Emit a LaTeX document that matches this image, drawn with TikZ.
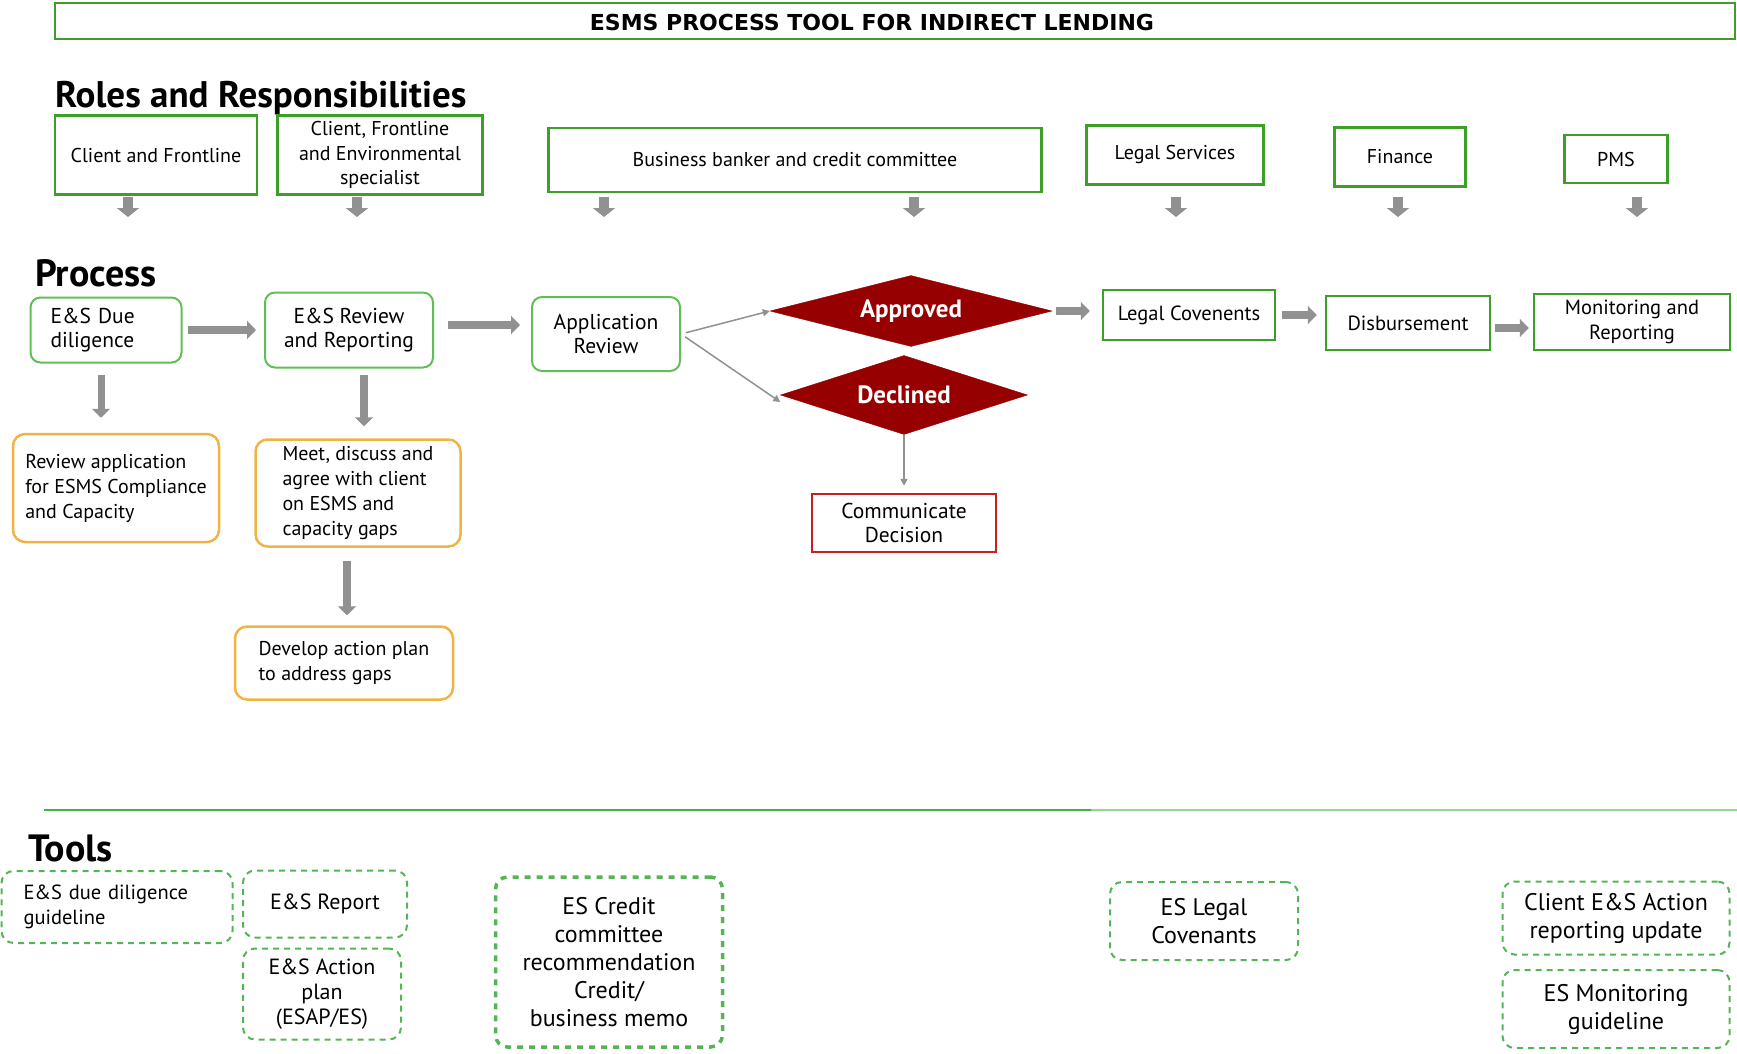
\documentclass[tikz,border=0pt]{standalone}
\usepackage{fontspec}
\setmainfont{PT Sans}
\newfontfamily\titlefont{DejaVu Sans}
\usetikzlibrary{arrows.meta,shapes.geometric,positioning}

\definecolor{boxgreen}{RGB}{60,160,40}
\definecolor{softgreen}{RGB}{95,190,85}
\definecolor{dashgreen}{RGB}{85,180,85}
\definecolor{gapgold}{RGB}{240,180,70}
\definecolor{decred}{RGB}{150,0,0}
\definecolor{commred}{RGB}{200,30,30}
\definecolor{arrowgray}{RGB}{145,145,145}
\definecolor{rulegreen}{RGB}{70,175,70}
\definecolor{rulelight}{RGB}{150,215,150}

\tikzset{
  titlebox/.style={draw=boxgreen, line width=2pt},
  sechead/.style={anchor=west, inner sep=0pt, font=\bfseries\fontsize{38}{42}\selectfont},
  rolebox/.style={draw=boxgreen, line width=2.5pt, align=center, inner sep=2pt,
    font=\fontsize{20}{24.5}\selectfont},
  procbox/.style={draw=softgreen, line width=2pt, rounded corners=10pt, align=center,
    font=\fontsize{21.5}{24.5}\selectfont},
  flatbox/.style={draw=boxgreen, line width=2.5pt, align=center, font=\fontsize{20.5}{24.5}\selectfont},
  gapbox/.style={draw=gapgold, line width=2.5pt, rounded corners=12pt, align=left,
    font=\fontsize{20}{25}\selectfont},
  decision/.style={diamond, fill=decred, draw=decred, inner sep=0pt, text=white,
    font=\bfseries\fontsize{25}{28}\selectfont},
  commbox/.style={draw=commred, line width=2.5pt, align=center, font=\fontsize{21.5}{24}\selectfont},
  toolbox/.style={draw=dashgreen, line width=2pt, dash pattern=on 6pt off 5pt,
    rounded corners=12pt, align=center, font=\fontsize{24}{28}\selectfont},
  blockarrow/.style={draw=arrowgray, line width=8pt, -{Triangle[width=18pt,length=9pt]}},
  downarrow/.style={draw=arrowgray, line width=10pt, -{Triangle[width=22pt,length=9pt]}},
  thinarrow/.style={draw=arrowgray, line width=1.5pt, -{Triangle[width=7pt,length=7pt]}}
}

\begin{document}
\begin{tikzpicture}[x=1pt,y=-1pt]
  \useasboundingbox (0,0) rectangle (1737,1054);

  % title and headings
  \draw[titlebox] (55,3) rectangle (1735,39);
  \node[font=\titlefont\bfseries\fontsize{22}{24}\selectfont] (title) at (872,22)
    {ESMS PROCESS TOOL FOR INDIRECT LENDING};
  \node[sechead, font=\bfseries\fontsize{37}{42}\selectfont] (roles) at (55,98) {Roles and Responsibilities};
  \node[sechead] (proc) at (35,273) {Process};
  \node[sechead] (tools) at (28,848) {Tools};

  % roles and responsibilities
  \node[rolebox, minimum width=202pt, minimum height=79pt] (cf) at (156,155) {Client and Frontline};
  \node[rolebox, minimum width=205pt, minimum height=79pt] (cfe) at (380,155)
    {Client, Frontline\\and Environmental\\specialist};
  \node[rolebox, minimum width=493pt, minimum height=64pt] (bank) at (795,160)
    {Business banker and credit committee};
  \node[rolebox, minimum width=177pt, minimum height=59pt] (legal) at (1175,155) {Legal Services};
  \node[rolebox, minimum width=131pt, minimum height=59pt] (fin) at (1400,157) {Finance};
  \node[rolebox, minimum width=103pt, minimum height=48pt] (pms) at (1616,159) {PMS};

  \foreach \x in {128,357,604,914,1176,1398,1637}
    \draw[downarrow] (\x,197) -- (\x,217);

  % process
  \node[procbox, align=left, text width=111pt, inner xsep=20pt, minimum height=65pt] (dd) at (106,330)
    {E\&S Due\\diligence};
  \node[procbox, minimum width=168pt, minimum height=75pt] (rr) at (349,330)
    {E\&S Review\\and Reporting};
  \node[procbox, minimum width=148pt, minimum height=74pt] (ar) at (606,334)
    {Application\\Review};
  \node[decision, aspect=4, minimum width=282pt, minimum height=71pt] (appr) at (911,311) {Approved};
  \node[decision, aspect=3.1, minimum width=247pt, minimum height=79pt] (decl) at (904,395) {Declined};
  \node[commbox, minimum width=184pt, minimum height=58pt] (comm) at (904,523)
    {Communicate\\Decision};
  \node[flatbox, minimum width=172pt, minimum height=50pt] (lc) at (1189,315) {Legal Covenents};
  \node[flatbox, minimum width=164pt, minimum height=54pt] (disb) at (1408,323) {Disbursement};
  \node[flatbox, minimum width=196pt, minimum height=56pt] (mon) at (1632,322)
    {Monitoring and\\Reporting};

  \node[gapbox, minimum width=206pt, minimum height=108pt] (rev) at (116,488)
    {Review application\\for ESMS Compliance\\and Capacity};
  \node[gapbox, minimum width=205pt, minimum height=107pt] (meet) at (358,493)
    {Meet, discuss and\\agree with client\\on ESMS and\\capacity gaps};
  \node[gapbox, minimum width=218pt, minimum height=73pt] (dev) at (344,663)
    {Develop action plan\\to address gaps};

  \draw[blockarrow, shorten <=5pt, shorten >=8pt] (dd.east) -- (dd.east -| rr.west);
  \draw[blockarrow, shorten <=14pt, shorten >=11pt] ([yshift=5pt]rr.east) -- ([yshift=5pt]rr.east -| ar.west);
  \draw[blockarrow, line width=7pt, shorten <=11pt, shorten >=15pt] ([xshift=-5pt]dd.south) -- ([xshift=-5pt]dd.south |- rev.north);
  \draw[blockarrow, shorten <=6pt, shorten >=12pt] ([xshift=15pt]rr.south) -- ([xshift=15pt]rr.south |- meet.north);
  \draw[blockarrow, shorten <=13pt, shorten >=10pt] ([xshift=-11pt]meet.south) -- ([xshift=-11pt]meet.south |- dev.north);
  \draw[thinarrow, shorten <=5pt] (ar.east) -- (appr.west);
  \draw[thinarrow, shorten <=5pt] (ar.east) -- ([yshift=-7pt]decl.west);
  \draw[thinarrow, shorten >=7pt] (decl.south) -- (comm.north);
  \draw[blockarrow, shorten <=4pt, shorten >=12pt] (appr.east) -- (appr.east -| lc.west);
  \draw[blockarrow, shorten <=6pt, shorten >=8pt] (lc.east) -- (lc.east -| disb.west);
  \draw[blockarrow, shorten <=4pt, shorten >=4pt] ([yshift=-5pt]disb.east) -- ([yshift=-5pt]disb.east -| mon.west);

  % separator
  \draw[rulegreen, line width=1.5pt] (44,810) -- (1091,810);
  \draw[rulelight, line width=1.5pt] (1091,810) -- (1737,810);

  % tools
  \node[toolbox, font=\fontsize{20.5}{25}\selectfont, align=left, text width=187pt, inner xsep=22pt, minimum height=72pt] (t1) at (117,907)
    {E\&S due diligence\\guideline};
  \node[toolbox, font=\fontsize{22}{25}\selectfont, minimum width=164pt, minimum height=67pt] (t2) at (325,904) {E\&S Report};
  \node[toolbox, font=\fontsize{22}{25}\selectfont, minimum width=158pt, minimum height=91pt] (t3) at (322,994)
    {E\&S Action\\plan\\(ESAP/ES)};
  \node[toolbox, line width=3.5pt, dash pattern=on 6pt off 6pt, minimum width=227pt, minimum height=170pt] (t4) at (609,962)
    {ES Credit\\committee\\recommendation\\Credit/\\business memo};
  \node[toolbox, minimum width=188pt, minimum height=78pt] (t5) at (1204,921) {ES Legal\\Covenants};
  \node[toolbox, minimum width=227pt, minimum height=73pt] (t6) at (1616,918)
    {Client E\&S Action\\reporting update};
  \node[toolbox, minimum width=227pt, minimum height=78pt] (t7) at (1616,1009)
    {ES Monitoring\\guideline};
\end{tikzpicture}
\end{document}
